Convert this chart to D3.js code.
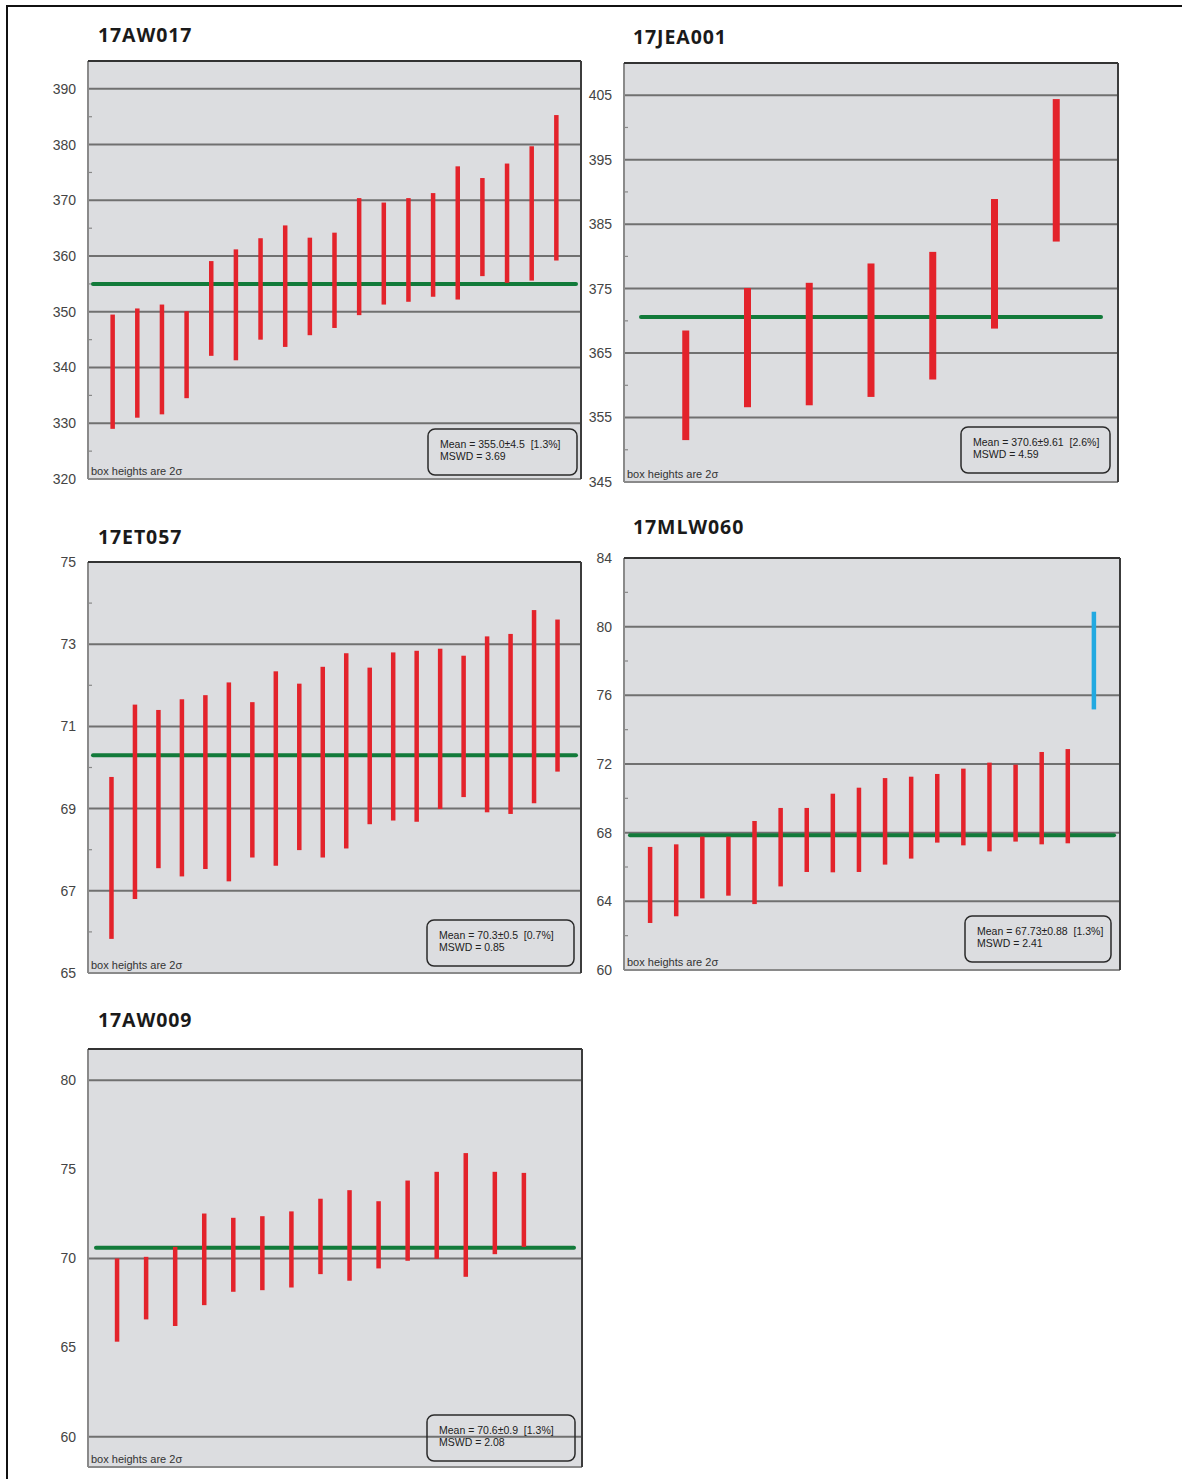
<!DOCTYPE html>
<html>
<head>
<meta charset="utf-8">
<script src="https://cdn.jsdelivr.net/npm/d3@7"></script>
<style>
  body { margin: 0; background: #fff; }
  svg { display: block; }
  text { white-space: pre; }
</style>
</head>
<body>
<svg id="chart" width="1182" height="1479"></svg>
<script>
// sample names
var samples = ['17AW017', '17JEA001', '17ET057', '17MLW060', '17AW009']

// 2 sigma box ends
var aw017Low  = [329.0, 331.0, 331.6, 334.5, 342.1, 341.3, 345.0, 343.7, 345.8, 347.1, 349.4, 351.3, 351.8, 352.7, 352.2, 356.4, 355.2, 355.6, 359.2]
var aw017High = [349.5, 350.6, 351.3, 350.1, 359.1, 361.2, 363.2, 365.5, 363.3, 364.2, 370.4, 369.6, 370.4, 371.3, 376.1, 374.0, 376.6, 379.7, 385.3]

var jea001Low  = [351.5, 356.6, 356.9, 358.2, 360.9, 368.8, 382.3]
var jea001High = [368.5, 375.1, 375.9, 378.9, 380.7, 388.9, 404.4]

var et057Low  = [65.83, 66.80, 67.55, 67.35, 67.53, 67.23, 67.81, 67.61, 67.99, 67.81, 68.03, 68.62, 68.71, 68.68, 68.99, 69.28, 68.91, 68.87, 69.13, 69.90]
var et057High = [69.77, 71.53, 71.40, 71.66, 71.76, 72.07, 71.59, 72.34, 72.04, 72.45, 72.78, 72.43, 72.80, 72.84, 72.89, 72.72, 73.19, 73.25, 73.83, 73.60]

var mlw060Low  = [62.74, 63.13, 64.17, 64.33, 63.84, 64.87, 65.71, 65.69, 65.71, 66.14, 66.49, 67.42, 67.26, 66.91, 67.48, 67.32, 67.38, 75.18]
var mlw060High = [67.17, 67.32, 67.77, 67.77, 68.68, 69.44, 69.44, 70.27, 70.62, 71.18, 71.26, 71.42, 71.73, 72.08, 71.96, 72.70, 72.87, 80.87]
var mlw060Rejected = [17]   // index of the blue (rejected) box

var aw009Low  = [65.33, 66.58, 66.21, 67.38, 68.13, 68.22, 68.37, 69.12, 68.75, 69.44, 69.87, 69.98, 68.97, 70.24, 70.65]
var aw009High = [70.00, 70.09, 70.65, 72.52, 72.28, 72.37, 72.64, 73.35, 73.83, 73.21, 74.37, 74.86, 75.91, 74.86, 74.80]

// weighted mean lines and the stats text
var meanLevels = [355.0, 370.6, 70.3, 67.85, 70.6]
var meanText = ['Mean = 355.0\u00b14.5  [1.3%]', 'Mean = 370.6\u00b19.61  [2.6%]', 'Mean = 70.3\u00b10.5  [0.7%]',
                'Mean = 67.73\u00b10.88  [1.3%]', 'Mean = 70.6\u00b10.9  [1.3%]']
var mswdText = ['MSWD = 3.69', 'MSWD = 4.59', 'MSWD = 0.85', 'MSWD = 2.41', 'MSWD = 2.08']

// y axis ticks
var yDomains = [[320, 395], [345, 410], [65, 75], [60, 84], [58.3, 81.75]]
var yTicks = [d3.range(320, 391, 10), d3.range(345, 406, 10), d3.range(65, 76, 2), d3.range(60, 85, 4), d3.range(60, 81, 5)]
var yGrid = [d3.range(330, 391, 10), d3.range(355, 406, 10), d3.range(67, 74, 2), d3.range(64, 81, 4), [60, 70, 80]]
var yMinor = [d3.range(325, 395, 10), d3.range(350, 410, 10), d3.range(66, 75, 2), d3.range(62, 84, 4), []]

var lows = [aw017Low, jea001Low, et057Low, mlw060Low, aw009Low]
var highs = [aw017High, jea001High, et057High, mlw060High, aw009High]

// panel placement
var layout = [
    {x: 88,  y: 61,   w: 493, h: 418, xMax: 20, bar: 4.5, lineIn: 5,  boxW: 149, boxR: 4, boxB: 4, ty: 42},
    {x: 624, y: 63,   w: 494, h: 419, xMax: 8,  bar: 7,   lineIn: 17, boxW: 149, boxR: 8, boxB: 9, ty: 44},
    {x: 88,  y: 562,  w: 493, h: 411, xMax: 21, bar: 4.5, lineIn: 5,  boxW: 147, boxR: 7, boxB: 7, ty: 544},
    {x: 624, y: 558,  w: 496, h: 412, xMax: 19, bar: 4.5, lineIn: 6,  boxW: 146, boxR: 9, boxB: 8, ty: 534},
    {x: 88,  y: 1049, w: 494, h: 418, xMax: 17, bar: 4.5, lineIn: 8,  boxW: 148, boxR: 7, boxB: 6, ty: 1027}
]

var svg = d3.select('#chart')

// outer frame
svg.append('line').attr('x1', 6).attr('x2', 1182).attr('y1', 6).attr('y2', 6)
    .attr('stroke', '#111').attr('stroke-width', 2)
svg.append('line').attr('x1', 7).attr('x2', 7).attr('y1', 5).attr('y2', 1479)
    .attr('stroke', '#111').attr('stroke-width', 2)

samples.forEach(function(name, k) {
    var L = layout[k]
    var g = svg.append('g').attr('transform', 'translate(' + L.x + ',' + L.y + ')')

    var x = d3.scaleLinear().domain([0, L.xMax]).range([0, L.w])
    var y = d3.scaleLinear().domain(yDomains[k]).range([L.h, 0])

    // title
    svg.append('text')
        .attr('x', L.x + (k % 2 ? 9 : 10)).attr('y', L.ty)
        .attr('font-family', 'Open Sans, sans-serif').attr('font-weight', 700)
        .attr('font-size', 19.5).attr('letter-spacing', 0.9).attr('fill', '#1a1a1a')
        .text(name)

    // background
    g.append('rect').attr('width', L.w).attr('height', L.h).attr('fill', '#dcdde0')

    // grid
    g.selectAll('.grid').data(yGrid[k]).enter().append('line')
        .attr('x1', 0).attr('x2', L.w)
        .attr('y1', function(d) { return y(d) }).attr('y2', function(d) { return y(d) })
        .attr('stroke', '#707070').attr('stroke-width', 2)

    // minor ticks on left edge
    g.selectAll('.minor').data(yMinor[k]).enter().append('line')
        .attr('x1', 0).attr('x2', 4)
        .attr('y1', function(d) { return y(d) }).attr('y2', function(d) { return y(d) })
        .attr('stroke', '#888').attr('stroke-width', 1.2)

    // frame: lighter left/bottom, darker top/right
    g.append('line').attr('x1', 0).attr('x2', 0).attr('y1', 0).attr('y2', L.h).attr('stroke', '#8a8a8a').attr('stroke-width', 2)
    g.append('line').attr('x1', 0).attr('x2', L.w).attr('y1', L.h).attr('y2', L.h).attr('stroke', '#8a8a8a').attr('stroke-width', 2)
    g.append('line').attr('x1', 0).attr('x2', L.w).attr('y1', 0).attr('y2', 0).attr('stroke', '#333').attr('stroke-width', 2)
    g.append('line').attr('x1', L.w).attr('x2', L.w).attr('y1', 0).attr('y2', L.h).attr('stroke', '#3c3c3c').attr('stroke-width', 2)

    // y labels
    g.selectAll('.ylab').data(yTicks[k]).enter().append('text')
        .attr('x', -12).attr('y', function(d) { return y(d) })
        .attr('dy', '0.35em').attr('text-anchor', 'end')
        .attr('font-family', 'Liberation Sans, Arial, sans-serif').attr('font-size', 14)
        .attr('fill', '#444')
        .text(function(d) { return d })

    // mean line
    g.append('line')
        .attr('x1', L.lineIn).attr('x2', L.w - L.lineIn)
        .attr('y1', y(meanLevels[k])).attr('y2', y(meanLevels[k]))
        .attr('stroke', '#127a3a').attr('stroke-width', 4).attr('stroke-linecap', 'round')

    // boxes
    var rows = lows[k].map(function(lo, i) { return {i: i, lo: lo, hi: highs[k][i]} })
    g.selectAll('.box').data(rows).enter().append('rect')
        .attr('x', function(d) { return x(d.i + 1) - L.bar / 2 })
        .attr('width', L.bar)
        .attr('y', function(d) { return y(d.hi) })
        .attr('height', function(d) { return y(d.lo) - y(d.hi) })
        .attr('fill', function(d) {
            return (k === 3 && mlw060Rejected.indexOf(d.i) >= 0) ? '#22a9e1' : '#e3232b'
        })

    // note
    g.append('text').attr('x', 3).attr('y', L.h - 4)
        .attr('font-family', 'Liberation Sans, Arial, sans-serif').attr('font-size', 11)
        .attr('fill', '#333')
        .text('box heights are 2\u03c3')

    // stats box
    var bx = L.w - L.boxR - L.boxW, by = L.h - L.boxB - 46
    g.append('rect').attr('x', bx).attr('y', by).attr('width', L.boxW).attr('height', 46)
        .attr('rx', 7).attr('fill', 'none').attr('stroke', '#2a2a2a').attr('stroke-width', 1.5)
    g.append('text').attr('x', bx + 12).attr('y', by + 19)
        .attr('font-family', 'Liberation Sans, Arial, sans-serif').attr('font-size', 10.5).attr('fill', '#222')
        .text(meanText[k])
    g.append('text').attr('x', bx + 12).attr('y', by + 31)
        .attr('font-family', 'Liberation Sans, Arial, sans-serif').attr('font-size', 10.5).attr('fill', '#222')
        .text(mswdText[k])
})
</script>
</body>
</html>
